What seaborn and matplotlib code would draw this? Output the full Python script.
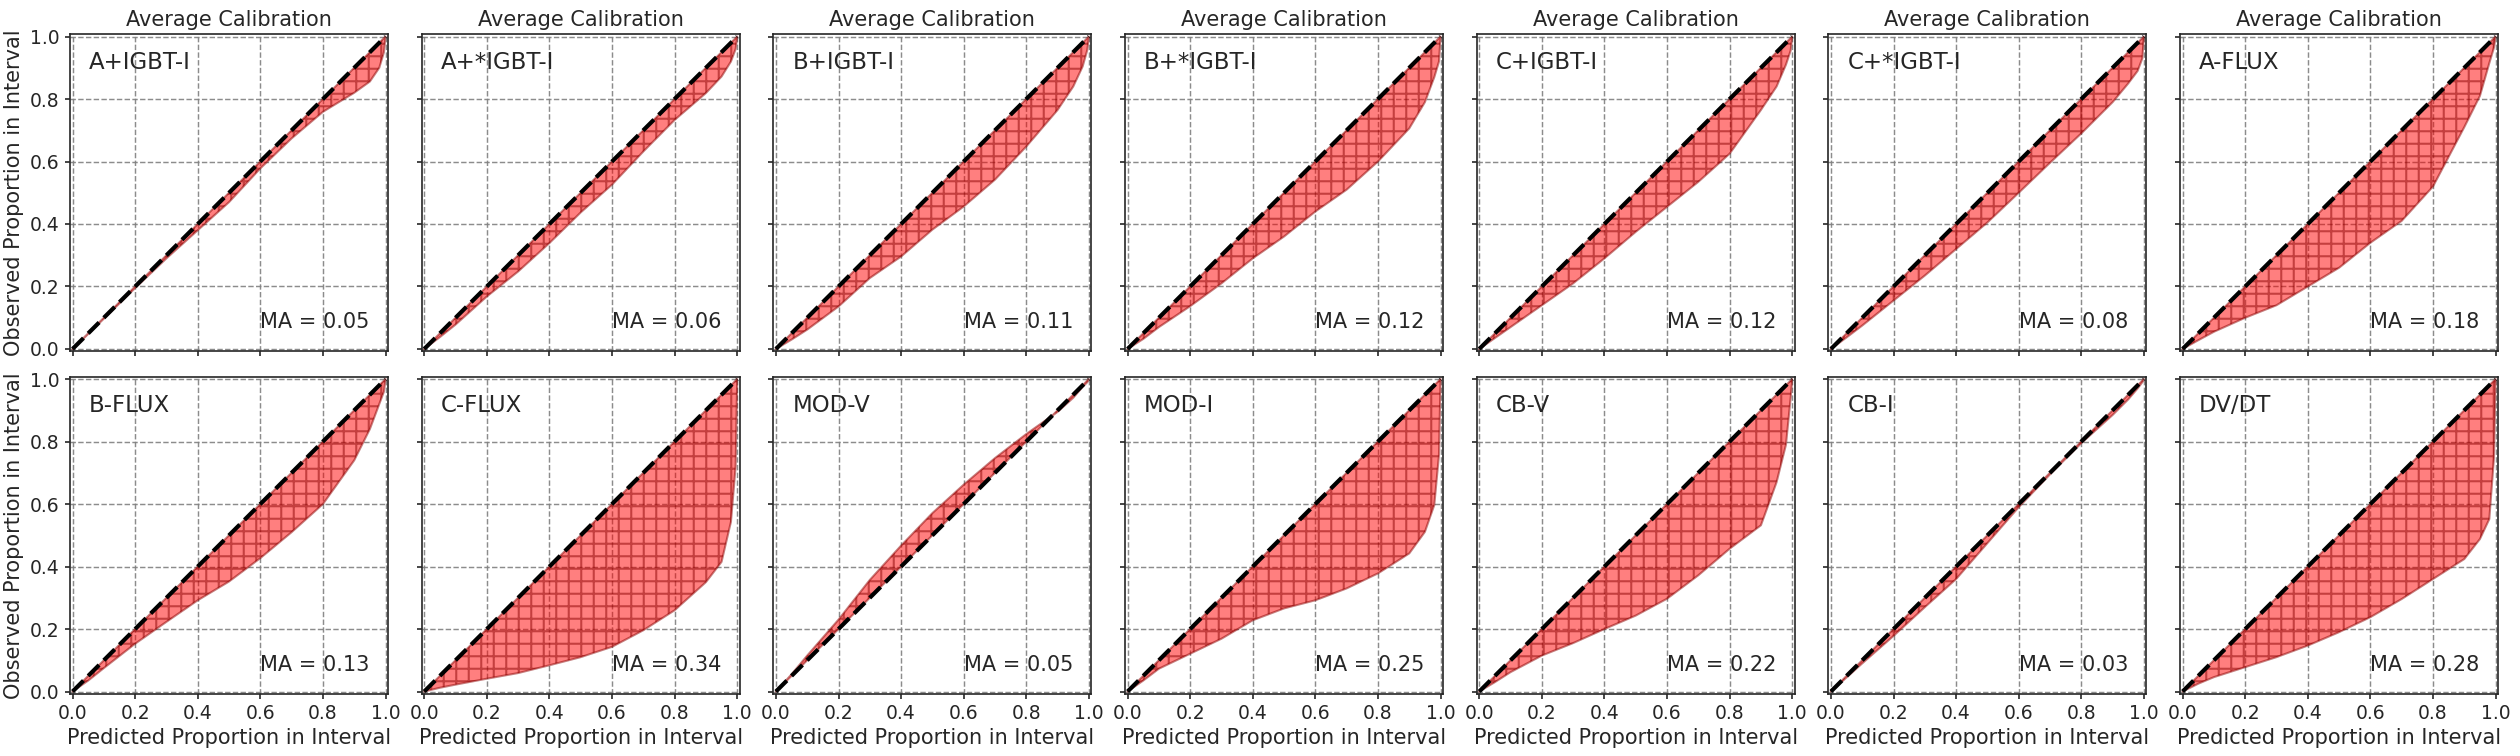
import numpy as np
import matplotlib
matplotlib.use("Agg")
import matplotlib.pyplot as plt
import seaborn as sns

# expected proportions (shared x grid for all panels)
expected = [0, 0.05, 0.1, 0.2, 0.3, 0.4, 0.5, 0.6, 0.7, 0.8, 0.9, 0.95, 0.98, 0.995, 1.0]

# observed proportions per model
names = ["A+IGBT-I", "A+*IGBT-I", "B+IGBT-I", "B+*IGBT-I", "C+IGBT-I", "C+*IGBT-I", "A-FLUX",
         "B-FLUX", "C-FLUX", "MOD-V", "MOD-I", "CB-V", "CB-I", "DV/DT"]
ma_values = [0.05, 0.06, 0.11, 0.12, 0.12, 0.08, 0.18,
             0.13, 0.34, 0.05, 0.25, 0.22, 0.03, 0.28]

obs_a_igbt = [0, 0.048, 0.097, 0.195, 0.29, 0.38, 0.47, 0.578, 0.674, 0.759, 0.82, 0.856, 0.90, 0.95, 1.0]
obs_a_star = [0, 0.038, 0.078, 0.168, 0.248, 0.339, 0.437, 0.526, 0.632, 0.733, 0.819, 0.872, 0.92, 0.96, 1.0]
obs_b_igbt = [0, 0.03, 0.062, 0.136, 0.227, 0.296, 0.382, 0.456, 0.542, 0.648, 0.765, 0.84, 0.904, 0.957, 1.0]
obs_b_star = [0, 0.032, 0.07, 0.137, 0.21, 0.29, 0.36, 0.44, 0.51, 0.60, 0.706, 0.79, 0.87, 0.92, 1.0]
obs_c_igbt = [0, 0.035, 0.07, 0.14, 0.21, 0.29, 0.375, 0.455, 0.535, 0.625, 0.765, 0.84, 0.91, 0.955, 1.0]
obs_c_star = [0, 0.037, 0.075, 0.155, 0.235, 0.32, 0.405, 0.5, 0.596, 0.69, 0.79, 0.85, 0.89, 0.93, 1.0]
obs_a_flux = [0, 0.028, 0.055, 0.1, 0.14, 0.2, 0.26, 0.34, 0.41, 0.52, 0.71, 0.81, 0.915, 0.965, 1.0]
obs_b_flux = [0, 0.035, 0.075, 0.153, 0.223, 0.292, 0.352, 0.427, 0.51, 0.6, 0.74, 0.84, 0.92, 0.96, 1.0]
obs_c_flux = [0, 0.012, 0.022, 0.041, 0.059, 0.084, 0.11, 0.143, 0.196, 0.26, 0.35, 0.415, 0.543, 0.72, 1.0]
obs_mod_v = [0, 0.055, 0.115, 0.23, 0.357, 0.467, 0.571, 0.662, 0.747, 0.824, 0.895, 0.94, 0.975, 0.99, 1.0]
obs_mod_i = [0, 0.035, 0.073, 0.121, 0.169, 0.228, 0.266, 0.292, 0.33, 0.378, 0.442, 0.511, 0.597, 0.757, 1.0]
obs_cb_v = [0, 0.03, 0.062, 0.115, 0.155, 0.2, 0.243, 0.297, 0.372, 0.457, 0.532, 0.67, 0.79, 0.94, 1.0]
obs_cb_i = [0, 0.045, 0.09, 0.178, 0.27, 0.36, 0.475, 0.59, 0.695, 0.795, 0.885, 0.935, 0.97, 0.99, 1.0]
obs_dvdt = [0, 0.025, 0.046, 0.078, 0.11, 0.147, 0.19, 0.238, 0.296, 0.36, 0.424, 0.488, 0.552, 0.75, 1.0]

observed = [obs_a_igbt, obs_a_star, obs_b_igbt, obs_b_star, obs_c_igbt, obs_c_star, obs_a_flux,
            obs_b_flux, obs_c_flux, obs_mod_v, obs_mod_i, obs_cb_v, obs_cb_i, obs_dvdt]

ticks = [0.0, 0.2, 0.4, 0.6, 0.8, 1.0]

sns.set_style("ticks")
plt.rcParams["font.family"] = ["DejaVu Sans"]

fig, axes = plt.subplots(2, 7, figsize=(16.8, 5.04), sharex=True, sharey=True)
fig.subplots_adjust(left=0.0278, right=0.9913, top=0.955, bottom=0.082, wspace=0.106, hspace=0.079)

x = np.array(expected)
for i, ax in enumerate(axes.flatten()):
    y = np.array(observed[i])
    ax.fill_between(x, x, y, facecolor="red", edgecolor="darkred", alpha=0.5,
                    hatch="++", linewidth=1.0, zorder=2)
    sns.lineplot(x=[0, 1], y=[0, 1], ax=ax, color="black", linestyle="--",
                 linewidth=2, zorder=3)
    ax.set_xlim(-0.008, 1.008)
    ax.set_ylim(-0.008, 1.008)
    ax.set_xticks(ticks)
    ax.set_yticks(ticks)
    ax.grid(True, color="gray", linestyle="--", linewidth=0.7, alpha=0.9)
    ax.tick_params(labelsize=9, length=2.5, pad=2.5, width=0.8)
    ax.text(0.06, 0.91, names[i], transform=ax.transAxes, fontsize=11, va="center")
    ax.text(0.6, 0.085, f"MA = {ma_values[i]:.2f}", fontsize=10, va="center")
    for s in ax.spines.values():
        s.set_visible(True)
    r, c = divmod(i, 7)
    if r == 0:
        ax.set_title("Average Calibration", fontsize=10, pad=4)
    if r == 1:
        ax.set_xlabel("Predicted Proportion in Interval", fontsize=10, labelpad=2)
    if c == 0:
        ax.set_ylabel("Observed Proportion in Interval", fontsize=10, labelpad=3)

fig.savefig("out.png", dpi=150)
